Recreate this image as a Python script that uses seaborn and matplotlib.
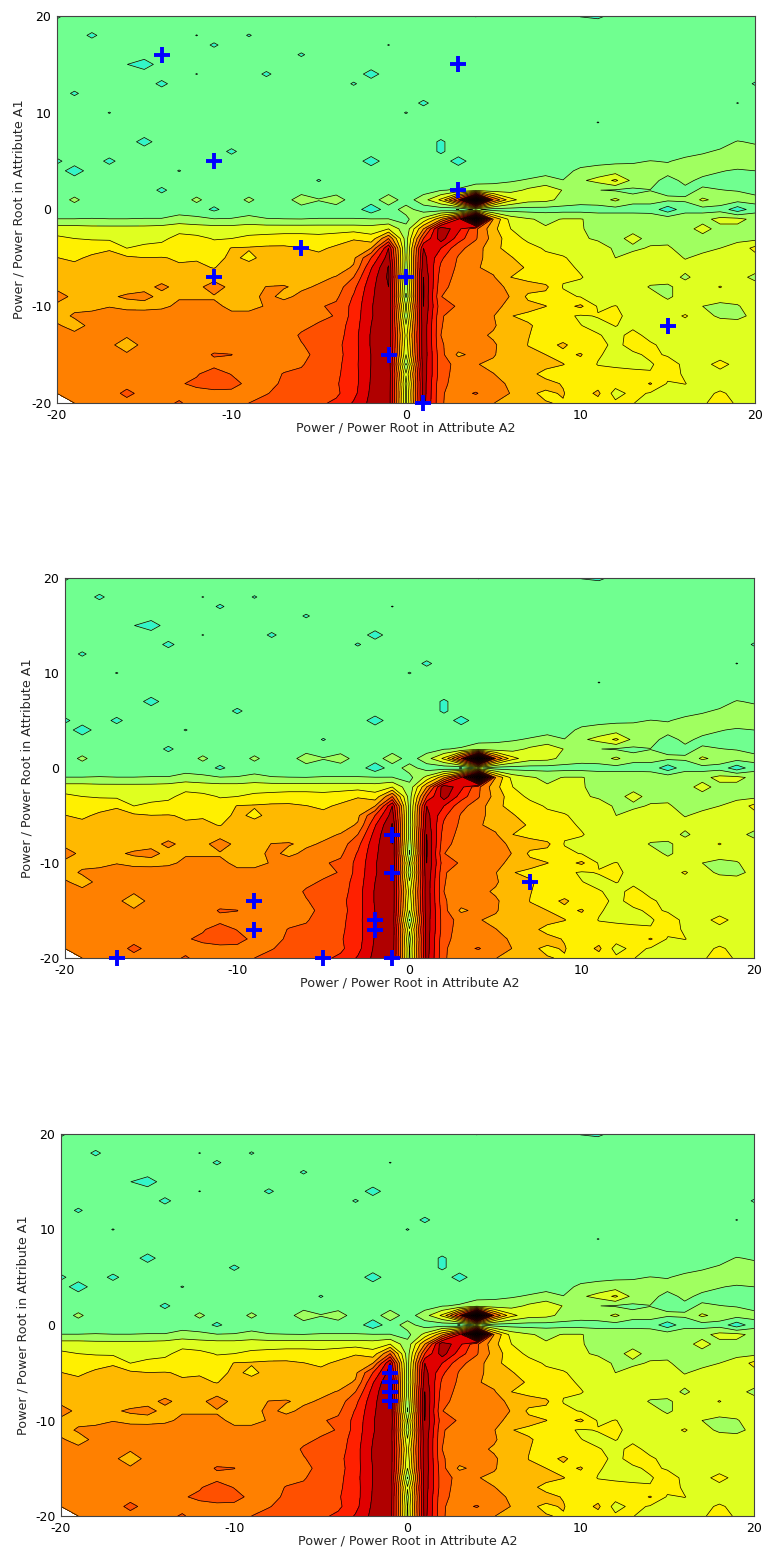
import numpy as np
import pandas as pd
import matplotlib
matplotlib.use('Agg')
import matplotlib.pyplot as plt
import seaborn as sns

# grid of the contour surface
x_vals = list(range(-20, 21))
y_vals = list(range(20, -21, -1))

# values, rows y=20..-20, columns x=-20..-11 | -10..-1 | 0 | 1..10 | 11..20
z_rows = [
    [.8,1.5,1.5,1.5,1.5,1.5,1.5,1.5,1.5,1.5, 1.5,1.5,1.5,1.5,1.5,1.5,1.5,1.5,1.5,1.5, 1.5, 1.5,1.5,1.5,.95,1.5,1.5,1.5,1.5,1.5,.95, .8,1.3,1.5,1.5,1.5,1.5,1.5,1.5,1.5,1.5],
    [1.5,1.5,1.5,1.5,1.5,1.5,1.5,1.5,1.5,1.5, 1.5,1.5,1.5,1.5,1.5,1.5,1.5,1.5,1.5,1.5, 1.5, 1.5,1.5,1.5,1.5,1.5,1.5,1.5,1.5,1.5,1.5, 1.5,1.5,1.5,1.5,1.5,1.5,1.5,1.5,1.5,1.5],
    [1.5,1.5,.8,1.5,1.5,1.5,1.5,1.5,.97,1.5, 1.5,.92,1.5,1.5,1.5,1.5,1.5,1.5,1.5,1.5, 1.5, 1.5,1.5,1.5,1.5,1.5,1.5,1.5,1.5,1.5,1.5, 1.5,1.5,1.5,1.5,1.5,1.5,1.5,1.5,1.5,1.5],
    [1.5,1.5,1.5,1.5,1.5,1.5,1.5,1.5,1.5,.85, 1.5,1.5,1.5,1.5,1.5,1.5,1.5,1.5,1.5,.97, 1.5, 1.5,1.5,1.5,1.5,1.5,1.5,1.5,1.5,1.5,1.5, 1.5,1.5,1.5,1.5,1.5,1.5,1.5,1.5,1.5,1.5],
    [1.5,1.5,1.5,1.5,1.5,1.5,1.5,1.5,1.5,1.5, 1.5,1.5,1.5,1.5,.88,1.5,1.5,1.5,1.5,1.5, 1.5, 1.5,1.5,1.5,1.5,1.5,1.5,1.5,1.5,1.5,1.5, 1.5,1.5,1.5,1.5,1.5,1.5,1.5,1.5,1.5,1.5],
    [1.5,1.5,1.5,1.5,1.02,.45,1.5,1.5,1.5,1.5, 1.5,1.5,1.5,1.5,1.5,1.5,1.5,1.5,1.5,1.5, 1.5, 1.5,1.5,1.5,1.5,1.5,1.5,1.5,1.5,1.5,1.5, 1.5,1.5,1.5,1.5,1.5,1.5,1.5,1.5,1.5,1.5],
    [1.5,1.5,1.5,1.5,1.5,1.5,1.5,1.5,.97,1.5, 1.5,1.5,.82,1.5,1.5,1.5,1.5,1.5,.6,1.5, 1.5, 1.5,1.5,1.5,1.5,1.5,1.5,1.5,1.5,1.5,1.5, 1.5,1.5,1.5,1.5,1.5,1.5,1.5,1.5,1.5,1.5],
    [1.5,1.5,1.5,1.5,1.5,1.5,.75,1.5,1.5,1.5, 1.5,1.5,1.5,1.5,1.5,1.5,1.5,.9,1.5,1.5, 1.5, 1.5,1.5,1.5,1.5,1.5,1.5,1.5,1.5,1.5,1.5, 1.5,1.5,1.5,1.5,1.5,1.5,1.5,1.5,1.5,.9],
    [1.5,.85,1.5,1.5,1.5,1.5,1.5,1.5,1.5,1.5, 1.5,1.5,1.5,1.5,1.5,1.5,1.5,1.5,1.5,1.5, 1.5, 1.5,1.5,1.5,1.5,1.5,1.5,1.5,1.5,1.5,1.5, 1.5,1.5,1.5,1.5,1.5,1.5,1.5,1.5,1.5,1.5],
    [1.5,1.5,1.5,1.5,1.5,1.5,1.5,1.5,1.5,1.5, 1.5,1.5,1.5,1.5,1.5,1.5,1.5,1.5,1.5,1.5, 1.5, .8,1.5,1.5,1.5,1.5,1.5,1.5,1.5,1.5,1.5, 1.5,1.5,1.5,1.5,1.5,1.5,1.5,1.5,.97,1.5],
    [1.5,1.5,1.5,.96,1.5,1.5,1.5,1.5,1.5,1.5, 1.5,1.5,1.5,1.5,1.5,1.5,1.5,1.5,1.5,1.5, .95, 1.5,1.5,1.5,1.5,1.5,1.5,1.5,1.5,1.5,1.5, 1.5,1.5,1.5,1.5,1.5,1.5,1.5,1.5,1.5,1.5],
    [1.5,1.5,1.5,1.5,1.5,1.5,1.5,1.5,1.5,1.5, 1.5,1.5,1.5,1.5,1.5,1.5,1.5,1.5,1.5,1.5, 1.5, 1.5,1.5,1.5,1.5,1.5,1.5,1.5,1.5,1.5,1.5, .97,1.5,1.5,1.5,1.5,1.5,1.5,1.5,1.5,1.5],
    [1.5,1.5,1.5,1.5,1.5,1.5,1.5,1.5,1.5,1.5, 1.5,1.5,1.5,1.5,1.5,1.5,1.5,1.5,1.5,1.5, 1.5, 1.5,1.5,1.5,1.5,1.5,1.5,1.5,1.5,1.5,1.5, 1.5,1.5,1.5,1.5,1.5,1.5,1.5,1.5,1.5,1.5],
    [1.5,1.5,1.5,1.5,1.5,.6,1.5,1.5,1.5,1.5, 1.5,1.5,1.5,1.5,1.5,1.5,1.5,1.5,1.5,1.5, 1.5, 1.5,.85,1.5,1.5,1.5,1.5,1.5,1.5,1.5,1.5, 1.5,1.5,1.5,1.5,1.5,1.5,1.5,1.7,2.05,1.9],
    [1.5,1.5,1.5,1.5,1.5,1.5,1.5,1.5,1.5,1.5, .8,1.5,1.5,1.5,1.5,1.5,1.5,1.5,1.5,1.5, 1.5, 1.5,.85,1.5,1.5,1.5,1.5,1.5,1.5,1.5,1.5, 1.5,1.5,1.5,1.5,1.5,1.7,1.9,2.1,2.3,2.3],
    [.8,1.5,1.5,.75,1.5,1.5,1.5,1.5,1.5,1.5, 1.5,1.5,1.5,1.5,1.5,1.5,1.5,1.5,.55,1.5, 1.5, 1.5,1.5,.6,1.5,1.5,1.5,1.5,1.5,1.5,1.6, 1.7,1.8,1.9,2.02,1.95,2.2,2.3,2.4,2.5,2.5],
    [1.5,.45,1.5,1.5,1.5,1.5,1.5,.95,1.5,1.5, 1.5,1.5,1.5,1.5,1.5,1.5,1.5,1.5,1.5,1.5, 1.5, 1.5,1.5,1.5,1.5,1.5,1.5,1.5,1.6,1.7,2.2, 2.4,2.5,2.3,2.2,2.3,2.4,2.3,2.05,1.9,2.0],
    [1.5,1.5,1.5,1.5,1.5,1.5,1.5,1.5,1.5,1.5, 1.5,1.5,1.5,1.5,1.5,.93,1.5,1.5,1.5,1.5, 1.5, 1.5,1.5,1.5,1.7,1.8,1.9,2.1,2.4,2.02,2.85, 3.3,4.2,2.7,2.3,1.7,2.2,1.8,1.7,1.5,1.4],
    [1.5,1.5,1.5,1.5,1.5,1.5,.8,1.5,1.5,1.5, 1.5,1.5,1.5,1.5,1.5,1.5,1.5,1.5,1.5,1.5, 1.4, 1.5,1.95,2.1,2.5,2.4,2.6,3.2,3.6,2.95,2.2, 2.02,1.9,1.8,1.98,1.7,1.8,2.1,2.02,1.95,1.7],
    [1.5,2.2,1.5,1.5,1.5,1.5,1.5,1.5,2.2,1.5, 1.5,2.2,1.5,1.5,2.6,2.05,2.5,1.5,1.5,2.6, 1.5, 2.6,4.2,8,17,7,4.3,3.4,3.3,2.7,2.4, 2.5,3.2,2.3,2.3,2.2,2.1,3.2,2.6,2.4,2.3],
    [1.5,1.5,1.5,1.5,1.5,1.5,1.5,1.5,1.5,.8, 1.5,1.5,1.5,1.5,1.5,1.5,1.5,1.5,.4,1.5, 2.4, 1.5,1.4,.95,2.2,1.5,1.6,1.6,1.6,1.6,1.6, 1.6,1.6,1.6,1.6,.4,1.6,1.6,1.6,.4,1.6],
    [2.02,2.02,2.05,2.02,2.02,2.05,2.05,2.4,2.2,2.05, 2.05,2.3,2.05,2.02,2.01,2.05,2.05,2.05,2.05,2.02, 1.7, 3.3,5.8,9,17,6,3.6,3.1,2.8,3.05,3.05, 2.7,2.7,2.7,2.6,2.6,2.7,2.7,3.3,3.3,2.7],
    [3.5,3.5,3.4,3.4,3.4,3.4,3.5,3.7,3.6,3.5, 3.5,3.6,3.6,3.6,3.6,3.6,3.6,3.6,3.5,4.0, 2.3, 6,10.8,9.3,7.2,5.3,4,3.6,3.1,3.2,3.05, 2.8,2.7,2.7,2.6,2.6,2.7,3.3,2.7,2.7,2.6],
    [4.2,4.0,3.9,3.8,3.6,3.7,3.8,4.3,4.2,3.95, 4.0,4.2,4.3,4.4,4.4,4.3,4.5,4.9,4.4,7, 2.5, 8,10.5,8.5,7.1,5.6,4.4,3.8,3.05,3.2,3.1, 2.9,2.7,3.3,2.7,2.8,2.7,2.7,2.8,2.8,2.7],
    [4.6,4.5,4.6,4.9,4.0,4.2,4.3,4.5,4.4,4.3, 5.05,5.1,5.2,5.2,5.03,4.8,5.2,5.6,6,10, 2.5, 10,9,7.3,6.5,5.3,4.6,4.3,3.9,3.8,3.7, 3.3,2.9,2.8,3.1,3.1,2.7,2.8,3.0,3.3,4.3],
    [5.02,4.8,5.2,5.3,5.2,5.02,5.05,4.9,4.9,4.5, 5.3,4.7,5.4,5.5,5.4,5.3,5.5,5.8,8,10.5, 2.6, 10.4,8.2,6.9,6.2,5.7,5.1,4.4,4.2,4.05,3.8, 3.4,3.0,3.4,3.4,3.4,2.95,3.2,3.3,3.5,3.6],
    [5.3,5.3,5.4,5.5,5.5,5.4,5.3,5.1,5.2,4.95, 5.5,5.5,5.6,5.6,5.7,5.7,5.6,6.1,8.9,11.1, 2.4, 10.6,7.8,6.8,6.1,5.7,5.3,4.9,4.5,4.2,3.9, 3.6,3.5,3.5,3.5,3.5,3.3,3.5,3.5,3.5,3.5],
    [5.5,5.5,5.6,5.7,5.7,5.7,5.6,5.6,5.6,5.6, 5.5,5.6,5.6,5.7,5.8,5.8,6.05,7,9.4,11.2, 2.6, 11,7.5,6.7,6.3,6.1,5.0,4.7,4.4,4.1,4.05, 3.7,3.6,3.6,3.5,3.5,2.8,3.5,3.5,3.4,2.7],
    [5.7,5.6,5.6,5.7,5.7,5.7,6.2,5.7,5.7,6.5, 5.7,5.7,6.02,6.05,5.85,6.1,6.5,7.7,9.7,11, 2.2, 11.1,7.3,6.6,6.4,6.3,5.8,5.4,5.2,3.95,3.8, 3.7,3.6,3.6,2.9,2.8,3.5,3.5,4.05,3.5,3.5],
    [6.5,5.7,5.8,5.9,6.1,6.3,5.7,5.9,5.9,5.9, 5.8,5.7,6.2,5.8,6.2,6.4,6.8,8.1,9.8,11, 1.9, 11.1,7.02,6.6,6.4,6.2,5.98,4.8,4.7,4.2,3.95, 3.7,3.7,3.6,3.5,2.8,3.5,3.5,3.5,3.5,3.5],
    [5.7,5.8,5.9,5.98,5.7,5.6,5.8,6.2,6.2,6.2, 5.8,5.8,6.05,6.4,6.5,6.9,7.2,8.3,9.9,11, 2.9, 11,7.4,6.9,6.4,6.2,5.8,5.3,5.02,4.6,5.2, 3.9,4.02,3.8,3.6,3.5,3.4,3.0,2.7,2.9,3.6],
    [5.7,6.1,6.1,6.2,6.5,6.6,6.5,6.4,6.4,6.4, 6.2,6.2,6.3,6.4,6.5,6.8,7.05,8.4,9.9,10.9, 2.3, 10.9,7.1,6.5,6.3,6.05,5.03,4.8,4.5,4.2,3.9, 4.05,4.2,3.7,3.6,3.6,4.1,3.4,2.8,2.7,3.3],
    [6.1,5.7,6.2,6.3,6.3,6.3,6.4,6.4,6.4,6.4, 6.4,6.4,6.4,6.5,6.8,7.1,7.4,8.5,10,10.8, 3.1, 10.7,7.05,6.5,6.3,6.1,5.5,5.1,4.7,4.4,4.02, 3.8,4.02,3.85,3.7,3.6,3.6,3.6,3.6,3.5,3.6],
    [6.3,6.2,6.3,6.4,6.2,6.4,6.4,6.5,6.4,6.5, 6.5,6.5,6.5,6.6,7.1,7.2,7.5,8.6,10.1,10.8, 3.6, 10.7,7.0,6.4,6.2,5.9,5.4,5.03,4.7,4.4,4.2, 4.05,3.8,4.2,3.8,3.6,3.6,3.6,3.6,3.6,3.6],
    [6.4,6.4,6.4,6.3,5.3,6.4,6.5,6.5,6.5,6.5, 6.5,6.5,6.5,6.6,6.95,7.3,7.7,8.6,10.1,10.8, 3.3, 10.7,7.1,6.5,6.3,6.1,5.6,4.98,4.6,5.2,4.4, 4.2,3.85,4.2,4.1,3.8,3.6,3.6,3.6,3.6,3.6],
    [6.4,6.4,6.4,6.4,6.2,6.5,6.5,6.5,6.5,7.1, 7.02,6.5,6.5,6.6,6.8,7.2,7.6,8.6,10.02,10.8, 3.0, 10.7,7.3,5.8,6.3,6.1,5.4,5.15,5.0,4.7,5.1, 4.1,3.7,3.9,4.1,3.95,3.7,3.7,3.6,3.6,3.6],
    [6.5,6.5,6.5,6.5,6.5,6.5,6.5,6.5,6.6,6.7, 6.7,6.5,6.5,6.7,6.95,7.25,7.7,8.65,10.02,10.8, 1.9, 10.6,7.4,6.7,6.05,5.8,5.5,5.3,5.2,5.03,4.6, 3.95,3.9,3.9,3.95,4.2,3.9,3.7,4.3,3.7,3.6],
    [6.5,6.5,6.5,6.5,6.5,6.5,6.6,6.7,6.9,7.5, 6.95,6.6,6.6,7.05,7.1,7.3,7.8,8.6,10.05,10.8, 3.1, 10.6,7.4,6.6,6.2,6.02,5.7,5.2,4.8,4.6,4.4, 4.4,4.2,4.1,4.03,4.3,3.9,3.7,3.7,3.7,3.6],
    [6.4,6.5,6.5,6.5,6.6,6.6,6.7,6.9,7.2,7.5, 7.4,6.7,6.8,7.1,7.4,7.6,7.9,8.6,10.1,10.8, 2.6, 10.5,7.2,6.7,6.3,6.1,5.95,5.4,5.2,4.95,4.4, 4.6,4.4,4.2,5.1,3.9,4.02,3.7,3.7,3.7,3.6],
    [6.5,6.5,6.5,6.5,7.3,6.6,6.6,6.7,6.7,6.7, 6.7,6.8,6.95,7.3,7.4,7.5,7.8,8.7,10.2,10.7, 2.9, 10.5,7.1,6.6,7.1,6.3,5.98,5.1,4.9,5.05,4.5, 5.2,3.6,4.3,3.9,3.8,3.7,3.8,4.1,3.8,3.7],
    [-5000,6.5,6.5,6.5,6.6,6.6,6.7,7.1,6.6,6.6, 6.6,7.0,7.3,7.5,7.7,7.8,8.2,9.1,10.3,10.7, 2.8, 10.4,7.1,6.5,6.2,6.02,5.7,5.4,5.03,4.95,4.7, 4.6,4.2,4.02,3.8,3.7,3.7,3.9,4.3,3.9,3.7],
]

# band edges and their fill colours
levels = list(range(0, 19))
band_colors = ['#33f5c8', '#70ff90', '#a0ff60', '#dfff20', '#fff000', '#ffb900', '#ff8000', '#ff5000', '#ff2000',
               '#e00000', '#b00000', '#8a0000', '#700000', '#580000', '#400000', '#300000', '#200000', '#100000']

tick_vals = [-20, -15, -10, -5, 0, 5, 10, 15, 20]
tick_text = ['-20', '', '-10', '', '0', '', '10', '', '20']

# plus markers of each panel
top_x = [-14, 3, -11, 3, -6, -11, 0, 15, -1, 1]
top_y = [16, 15, 5, 2, -4, -7, -7, -12, -15, -20]
mid_x = [-1, -1, -2, -2, -9, -9, 7, -17, -5, -1]
mid_y = [-7, -11, -16, -17, -14, -17, -12, -20, -20, -20]
low_x = [-1, -1, -1, -1]
low_y = [-5, -6, -7, -8]

# panel boxes in pixels: left, right, top, bottom
boxes = [(57, 755, 16, 403), (65, 754, 578, 958), (61, 754, 1134, 1516)]
crosses = [(top_x, top_y), (mid_x, mid_y), (low_x, low_y)]

W, H = 763, 1551
sns.set_style('white')
plt.rcParams['font.family'] = ['DejaVu Sans']

surface = pd.DataFrame(z_rows, index=y_vals, columns=x_vals)

# the lines skip the white corner so they do not pile up along its edge
line_surface = surface.copy()
line_surface.iloc[-1, 0] = 6.5

fig = plt.figure(figsize=(W / 100, H / 100), dpi=100)
for box, cross in zip(boxes, crosses):
    l, r, t, b = box
    ax = fig.add_axes([l / W, 1 - b / H, (r - l) / W, (b - t) / H])
    ax.contourf(surface.columns, surface.index, surface.values, levels=levels, colors=band_colors)
    ax.contour(line_surface.columns, line_surface.index, line_surface.values, levels=levels, colors='black', linewidths=0.5)
    ax.contour(surface.columns, surface.index, surface.values, levels=[0], colors='black', linewidths=0.5)
    plus = pd.DataFrame({'x': cross[0], 'y': cross[1]})
    sns.scatterplot(data=plus, x='x', y='y', marker='+', s=120, color='#0000ff', linewidth=2.8, clip_on=False, zorder=5, ax=ax)
    ax.set_xlim(-20, 20)
    ax.set_ylim(-20, 20)
    ax.set_xticks(tick_vals)
    ax.set_xticklabels(tick_text)
    ax.set_yticks(tick_vals)
    ax.set_yticklabels(tick_text)
    ax.tick_params(direction='in', top=True, right=True, bottom=True, left=True, length=4, width=0.6, labelsize=9, pad=4, colors='black')
    ax.set_xlabel('Power / Power Root in Attribute A2', fontsize=9.2, labelpad=0)
    ax.set_ylabel('Power / Power Root in Attribute A1', fontsize=9.2, labelpad=4)
    for sp in ax.spines.values():
        sp.set_linewidth(0.8)
        sp.set_color('#444444')

fig.savefig('out.png', dpi=100)
